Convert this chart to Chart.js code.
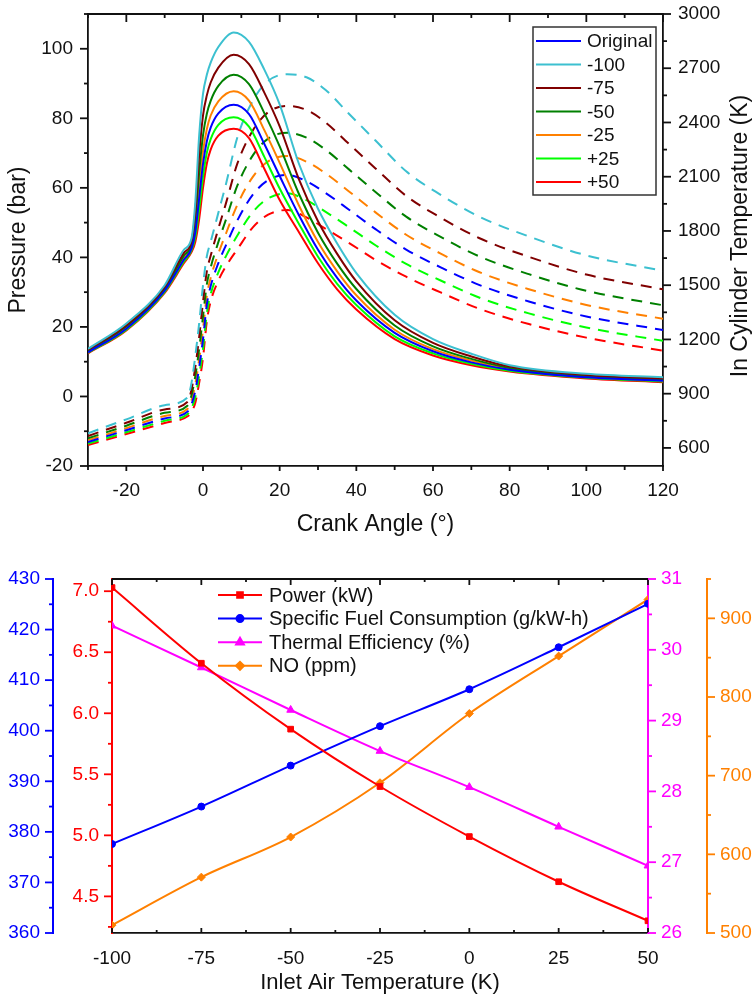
<!DOCTYPE html>
<html>
<head>
<meta charset="utf-8">
<script src="https://cdn.jsdelivr.net/npm/chart.js@4.4.0/dist/chart.umd.min.js"></script>
<style>
  body { margin: 0; background: #fff; }
  canvas { display: block; }
</style>
</head>
<body>
<canvas id="cylChart" width="755" height="545"></canvas>
<canvas id="inletChart" width="755" height="455"></canvas>
<script>
// ---- top chart data: crank angle (deg) ----
const crankAnglesP = [-30, -20, -10, -5, -3, -2, -1, 0, 1, 2, 4, 8, 12, 16, 20, 25, 30, 35, 40, 50, 60, 70, 80, 100, 120];
const crankAnglesT = [-30, -20, -10, -4, -3, -2, -1, 0, 1, 2, 4, 6, 9, 13, 17, 22, 27, 32, 38, 45, 53, 62, 72, 85, 100, 120];
const caseLabels = ["Original", "-100", "-75", "-50", "-25", "+25", "+50"];

// cylinder pressure (bar)
const pressOriginal = [12.7, 19.5, 30.4, 39.3, 42.5, 47.4, 57.0, 66.8, 73.4, 77.3, 81.4, 83.9, 81.2, 72.6, 63.4, 52.2, 42.2, 34.1, 27.6, 18.3, 13.0, 9.8, 7.7, 5.5, 4.5];
const pressMinus100 = [13.7, 21.0, 32.0, 42.2, 45.5, 56.0, 75.0, 87.0, 92.5, 96.0, 100.5, 104.7, 102.0, 94.0, 84.0, 67.0, 54.0, 44.0, 35.5, 23.5, 16.5, 12.3, 9.0, 6.5, 5.5];
const pressMinus75 = [13.4, 20.5, 31.5, 41.3, 44.6, 53.4, 69.5, 80.8, 86.6, 90.3, 94.6, 98.3, 95.6, 87.4, 77.7, 62.5, 50.4, 41.0, 33.1, 21.9, 15.4, 11.5, 8.6, 6.2, 5.2];
const pressMinus50 = [13.1, 20.1, 31.0, 40.5, 43.7, 50.9, 64.4, 75.1, 81.3, 85.0, 89.3, 92.5, 89.8, 81.5, 71.9, 58.3, 47.1, 38.2, 30.9, 20.4, 14.4, 10.8, 8.2, 5.9, 4.9];
const pressMinus25 = [12.9, 19.8, 30.7, 39.8, 43.1, 49.0, 60.4, 70.5, 76.9, 80.8, 84.9, 87.8, 85.1, 76.6, 67.2, 55.0, 44.4, 36.0, 29.1, 19.2, 13.6, 10.3, 7.9, 5.7, 4.6];
const pressPlus25 = [12.6, 19.2, 30.1, 38.8, 42.0, 45.9, 53.9, 63.2, 70.1, 74.0, 78.1, 80.3, 77.6, 68.9, 59.8, 49.7, 40.2, 32.4, 26.3, 17.3, 12.4, 9.4, 7.4, 5.4, 4.3];
const pressPlus50 = [12.4, 19.0, 29.8, 38.3, 41.5, 44.5, 51.0, 60.0, 67.0, 71.0, 75.0, 77.0, 74.3, 65.5, 56.5, 47.3, 38.3, 30.8, 25.0, 16.5, 11.8, 9.0, 7.2, 5.2, 4.1];

// in-cylinder temperature (K)
const tempOriginal = [633, 698, 763, 802, 841, 917, 1045, 1201, 1393, 1495, 1622, 1722, 1860, 2001, 2081, 2110, 2075, 2010, 1919, 1810, 1697, 1599, 1502, 1410, 1327, 1252];
const tempMinus100 = [681, 758, 836, 880, 960, 1110, 1290, 1500, 1660, 1740, 1900, 2060, 2320, 2520, 2630, 2667, 2650, 2580, 2450, 2300, 2130, 2000, 1880, 1770, 1665, 1580];
const tempMinus75 = [666, 739, 813, 855, 923, 1049, 1213, 1406, 1576, 1663, 1812, 1954, 2175, 2356, 2457, 2491, 2469, 2400, 2283, 2146, 1994, 1874, 1761, 1657, 1559, 1477];
const tempMinus50 = [653, 723, 794, 835, 891, 998, 1148, 1326, 1505, 1598, 1738, 1864, 2053, 2218, 2311, 2343, 2316, 2249, 2142, 2016, 1879, 1767, 1660, 1561, 1469, 1389];
const tempMinus25 = [642, 709, 777, 817, 864, 953, 1091, 1257, 1443, 1541, 1674, 1786, 1947, 2099, 2185, 2215, 2183, 2118, 2020, 1903, 1779, 1675, 1573, 1478, 1391, 1314];
const tempPlus25 = [624, 687, 750, 788, 820, 882, 1000, 1146, 1344, 1450, 1571, 1661, 1776, 1905, 1980, 2008, 1970, 1906, 1822, 1721, 1618, 1526, 1432, 1344, 1266, 1192];
const tempPlus50 = [616, 677, 738, 775, 800, 850, 960, 1097, 1300, 1410, 1525, 1605, 1700, 1820, 1890, 1916, 1875, 1812, 1735, 1640, 1547, 1460, 1370, 1285, 1210, 1138];

// ---- bottom chart data: inlet air temperature (K) ----
const inletTemps = [-100, -75, -50, -25, 0, 25, 50];
const powerKw = [7.03, 6.41, 5.87, 5.40, 4.99, 4.62, 4.30];
const sfcValues = [377.6, 385.0, 393.1, 400.9, 408.2, 416.5, 425.1];
const thermalEff = [30.34, 29.75, 29.15, 28.57, 28.06, 27.50, 26.95];
const noPpm = [510, 571, 622, 691, 779, 852, 924];

const FONT = "'Liberation Sans', Arial, sans-serif";
const caseColors = ["#0000ff", "#3cc0d0", "#800000", "#008000", "#ff8000", "#00ff00", "#ff0000"];

const pressureSets = [pressOriginal, pressMinus100, pressMinus75, pressMinus50, pressMinus25, pressPlus25, pressPlus50];
const tempSets = [tempOriginal, tempMinus100, tempMinus75, tempMinus50, tempMinus25, tempPlus25, tempPlus50];

function toPoints(xs, ys) {
  return xs.map((x, i) => ({ x: x, y: ys[i] }));
}

//force exact box sizes so the plot area lands where the reference has it
function fixWidth(w) {
  return (s) => { s.width = w; s.paddingTop = 0; s.paddingBottom = 0; };
}
function fixHeight(h) {
  return (s) => { s.height = h; s.paddingLeft = 0; s.paddingRight = 0; };
}
const plain = (v) => String(v);

//draws small tick marks (major + minor) along axes
const tickMarks = {
  id: "tickMarks",
  afterDraw(chart, args, opts) {
    const ctx = chart.ctx;
    const area = chart.chartArea;
    ctx.save();
    ctx.setLineDash([]);
    if (opts.topLine) {
      ctx.strokeStyle = opts.topLine;
      ctx.lineWidth = opts.lineWidth;
      ctx.beginPath();
      ctx.moveTo(area.left, area.top);
      ctx.lineTo(area.right, area.top);
      ctx.stroke();
    }
    for (let m of opts.marks) {
      const scale = chart.scales[m.scale];
      ctx.strokeStyle = m.color;
      ctx.lineWidth = opts.lineWidth;
      let base;
      if (m.side == "top") base = area.top;
      else if (m.side == "bottom") base = area.bottom;
      else if (m.side == "left") base = scale.right;
      else base = scale.left;
      for (let i = 0; ; i++) {
        const v = m.from + i * m.minor;
        if (v > m.to + 1e-9) break;
        const r = v / m.major;
        const isMajor = Math.abs(r - Math.round(r)) < 1e-6;
        const len = (isMajor ? m.len[0] : m.len[1]) * m.dir;
        const p = scale.getPixelForValue(v);
        ctx.beginPath();
        if (scale.isHorizontal()) {
          ctx.moveTo(p, base);
          ctx.lineTo(p, base + len);
        } else {
          ctx.moveTo(base, p);
          ctx.lineTo(base + len, p);
        }
        ctx.stroke();
      }
    }
    ctx.restore();
  },
};

//legend drawn inside the plot area
const insideLegend = {
  id: "insideLegend",
  afterDraw(chart, args, opts) {
    const ctx = chart.ctx;
    ctx.save();
    if (opts.box) {
      ctx.strokeStyle = "#333";
      ctx.lineWidth = 1.5;
      ctx.strokeRect(opts.box[0], opts.box[1], opts.box[2], opts.box[3]);
    }
    ctx.font = opts.font;
    ctx.textBaseline = "middle";
    ctx.textAlign = "left";
    opts.items.forEach((idx, i) => {
      const ds = chart.data.datasets[idx];
      const y = opts.y + i * opts.rowH;
      ctx.setLineDash([]);
      ctx.strokeStyle = ds.borderColor;
      ctx.lineWidth = 2;
      ctx.beginPath();
      ctx.moveTo(opts.x, y);
      ctx.lineTo(opts.x + opts.lineLen, y);
      ctx.stroke();
      if (ds.pointRadius) {
        ctx.fillStyle = ds.pointBackgroundColor;
        ctx.strokeStyle = ds.pointBorderColor;
        Chart.helpers.drawPoint(ctx, { pointStyle: ds.pointStyle, radius: ds.pointRadius, rotation: 0, borderWidth: 1 }, opts.x + opts.lineLen / 2, y);
      }
      ctx.fillStyle = "#111";
      ctx.fillText(ds.label, opts.textX, y + 1);
    });
    ctx.restore();
  },
};

//right axis title reading bottom to top
const sideTitle = {
  id: "sideTitle",
  afterDraw(chart, args, opts) {
    const ctx = chart.ctx;
    ctx.save();
    ctx.translate(opts.x, opts.y);
    ctx.rotate(-Math.PI / 2);
    ctx.font = opts.font;
    ctx.fillStyle = "#111";
    ctx.textAlign = "center";
    ctx.textBaseline = "middle";
    ctx.fillText(opts.text, 0, 0);
    ctx.restore();
  },
};

// ---------------- top chart ----------------
let topDatasets = [];
caseLabels.forEach((label, k) => {
  topDatasets.push({
    label: label,
    data: toPoints(crankAnglesP, pressureSets[k]),
    yAxisID: "yP",
    borderColor: caseColors[k],
    borderWidth: 2,
    pointRadius: 0,
    cubicInterpolationMode: "monotone",
  });
});
caseLabels.forEach((label, k) => {
  topDatasets.push({
    label: label + " T",
    data: toPoints(crankAnglesT, tempSets[k]),
    yAxisID: "yT",
    borderColor: caseColors[k],
    borderWidth: 2,
    borderDash: [11, 8],
    pointRadius: 0,
    cubicInterpolationMode: "monotone",
  });
});

const tickFont = { family: FONT, size: 19 };
const titleFont = { family: FONT, size: 23 };

new Chart(document.getElementById("cylChart"), {
  type: "line",
  data: { datasets: topDatasets },
  options: {
    responsive: false,
    animation: false,
    devicePixelRatio: 1,
    layout: { padding: { top: 14, left: 0, right: 0, bottom: 0 } },
    plugins: {
      legend: { display: false },
      tooltip: { enabled: false },
      tickMarks: {
        lineWidth: 1.8,
        topLine: "#111",
        marks: [
          { scale: "x", side: "bottom", from: -30, to: 120, minor: 10, major: 20, len: [5, 4], dir: 1, color: "#111" },
          { scale: "x", side: "top", from: -30, to: 120, minor: 10, major: 20, len: [8, 4], dir: 1, color: "#111" },
          { scale: "yP", side: "left", from: -20, to: 110, minor: 10, major: 20, len: [8, 4], dir: -1, color: "#111" },
          { scale: "yT", side: "right", from: 600, to: 3000, minor: 150, major: 300, len: [8, 4], dir: 1, color: "#111" },
        ],
      },
      insideLegend: {
        box: [533, 27, 123, 168],
        x: 536,
        lineLen: 45,
        textX: 587,
        y: 41,
        rowH: 23.5,
        font: "19px " + FONT,
        items: [0, 1, 2, 3, 4, 5, 6],
      },
      sideTitle: { x: 741, y: 236, text: "In Cylinder Temperature (K)", font: "23px " + FONT },
    },
    scales: {
      x: {
        type: "linear",
        min: -30,
        max: 120,
        ticks: { stepSize: 20, padding: 13, color: "#111", font: tickFont, maxRotation: 0, autoSkip: false, includeBounds: false, callback: plain },
        grid: { display: false, drawTicks: false },
        border: { display: true, color: "#111", width: 1.8 },
        title: { display: true, text: "Crank Angle (°)", color: "#111", font: titleFont, padding: { top: 0, bottom: 7 } },
        afterFit: fixHeight(79),
      },
      yP: {
        position: "left",
        min: -20,
        max: 110,
        ticks: { stepSize: 20, padding: 15, color: "#111", font: tickFont, autoSkip: false, includeBounds: false, callback: plain },
        grid: { display: false, drawTicks: false },
        border: { display: true, color: "#111", width: 1.8 },
        title: { display: true, text: "Pressure (bar)", color: "#111", font: titleFont, padding: { top: 5, bottom: 0 } },
        afterFit: fixWidth(88),
      },
      yT: {
        position: "right",
        min: 500,
        max: 3000,
        ticks: { stepSize: 300, padding: 15, color: "#111", font: tickFont, autoSkip: false, includeBounds: false, callback: plain },
        grid: { display: false, drawTicks: false },
        border: { display: true, color: "#111", width: 1.8 },
        afterFit: fixWidth(92),
      },
    },
  },
  plugins: [tickMarks, insideLegend, sideTitle],
});

// ---------------- bottom chart ----------------
const blue = "#0000ff";
const red = "#ff0000";
const magenta = "#ff00ff";
const orange = "#ff8000";

const bottomDatasets = [
  {
    label: "Power (kW)",
    data: toPoints(inletTemps, powerKw),
    yAxisID: "yPower",
    borderColor: red,
    pointBackgroundColor: red,
    pointBorderColor: red,
    pointStyle: "rect",
    pointRadius: 4,
  },
  {
    label: "Specific Fuel Consumption (g/kW-h)",
    data: toPoints(inletTemps, sfcValues),
    yAxisID: "ySfc",
    borderColor: blue,
    pointBackgroundColor: blue,
    pointBorderColor: blue,
    pointStyle: "circle",
    pointRadius: 3.5,
  },
  {
    label: "Thermal Efficiency (%)",
    data: toPoints(inletTemps, thermalEff),
    yAxisID: "yEff",
    borderColor: magenta,
    pointBackgroundColor: magenta,
    pointBorderColor: magenta,
    pointStyle: "triangle",
    pointRadius: 4.5,
  },
  {
    label: "NO (ppm)",
    data: toPoints(inletTemps, noPpm),
    yAxisID: "yNo",
    borderColor: orange,
    pointBackgroundColor: orange,
    pointBorderColor: orange,
    pointStyle: "rectRot",
    pointRadius: 4,
  },
];
bottomDatasets.forEach((d) => {
  d.borderWidth = 2;
  d.pointBorderWidth = 1;
  d.cubicInterpolationMode = "monotone";
});

function sideAxis(color, pos, min, max, step, width, weight, fmt) {
  return {
    position: pos,
    weight: weight,
    min: min,
    max: max,
    ticks: { stepSize: step, padding: 13, color: color, font: tickFont, autoSkip: false, includeBounds: false, callback: fmt },
    grid: { display: false, drawTicks: false },
    border: { display: true, color: color, width: 2 },
    afterFit: fixWidth(width),
  };
}

new Chart(document.getElementById("inletChart"), {
  type: "line",
  data: { datasets: bottomDatasets },
  options: {
    responsive: false,
    animation: false,
    devicePixelRatio: 1,
    layout: { padding: { top: 34, left: 0, right: 0, bottom: 0 } },
    plugins: {
      legend: { display: false },
      tooltip: { enabled: false },
      tickMarks: {
        lineWidth: 1.8,
        topLine: "#111",
        marks: [
          { scale: "x", side: "bottom", from: -100, to: 50, minor: 12.5, major: 25, len: [5, 3], dir: -1, color: "#111" },
          { scale: "x", side: "top", from: -100, to: 50, minor: 12.5, major: 25, len: [6, 3], dir: 1, color: "#111" },
          { scale: "ySfc", side: "left", from: 360, to: 430, minor: 5, major: 10, len: [8, 4], dir: -1, color: blue },
          { scale: "yPower", side: "left", from: 4.25, to: 7.0, minor: 0.25, major: 0.5, len: [8, 4], dir: -1, color: red },
          { scale: "yEff", side: "right", from: 26, to: 31, minor: 0.5, major: 1, len: [8, 4], dir: 1, color: magenta },
          { scale: "yNo", side: "right", from: 500, to: 950, minor: 50, major: 100, len: [8, 4], dir: 1, color: orange },
        ],
      },
      insideLegend: {
        x: 218,
        lineLen: 44,
        textX: 269,
        y: 50,
        rowH: 23.6,
        font: "20px " + FONT,
        items: [0, 1, 2, 3],
      },
    },
    scales: {
      x: {
        type: "linear",
        min: -100,
        max: 50,
        ticks: { stepSize: 25, padding: 14, color: "#111", font: tickFont, maxRotation: 0, autoSkip: false, callback: plain },
        grid: { display: false, drawTicks: false },
        border: { display: true, color: "#111", width: 1.8 },
        title: { display: true, text: "Inlet Air Temperature (K)", color: "#111", font: { family: FONT, size: 22 }, padding: { top: 0, bottom: 4 } },
        afterFit: fixHeight(67),
      },
      ySfc: sideAxis(blue, "left", 360, 430, 10, 53, 1, plain),
      yPower: sideAxis(red, "left", 4.2, 7.1, 0.5, 59, 0, (v) => v.toFixed(1)),
      yEff: sideAxis(magenta, "right", 26, 31, 1, 59, 0, plain),
      yNo: sideAxis(orange, "right", 500, 950, 100, 48, 1, plain),
    },
  },
  plugins: [tickMarks, insideLegend],
});
</script>
</body>
</html>
